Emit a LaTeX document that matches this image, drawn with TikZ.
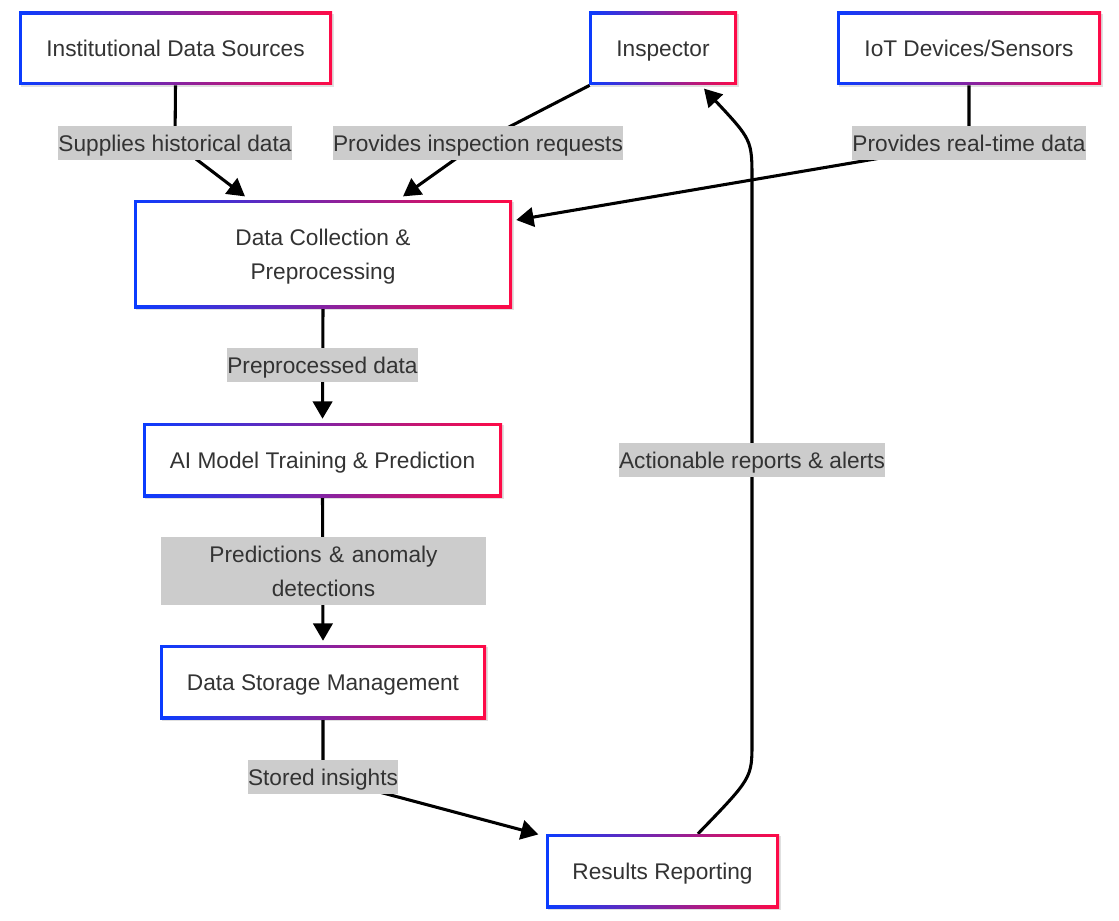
\documentclass[tikz,border=0pt]{standalone}
\usepackage{fontspec}
\setmainfont{Liberation Sans}
\usetikzlibrary{arrows.meta,shadows}
\definecolor{cblue}{HTML}{0A3CFF}
\definecolor{cred}{HTML}{FF0A46}
\definecolor{ctext}{HTML}{333333}
\definecolor{clabel}{HTML}{CCCCCC}
\pgfdeclarelayer{bg}
\pgfdeclarelayer{edges}
\pgfsetlayers{bg,edges,main}
\tikzset{
  gbox/.style={fill=white, text=ctext, inner sep=0pt, align=center,
    font=\fontsize{17pt}{25.5pt}\selectfont,
    general shadow={fill=black, opacity=0.12, shadow xshift=1.5pt, shadow yshift=-1.5pt},
    path picture={
      \shade[left color=cblue, right color=cred]
        (path picture bounding box.south west) rectangle (path picture bounding box.north east);
      \fill[white]
        ([shift={(2.3pt,2.3pt)}]path picture bounding box.south west) rectangle
        ([shift={(-2.3pt,-2.3pt)}]path picture bounding box.north east);
    }},
  sbox/.style={gbox, text height=13pt, text depth=1pt},
  elabel/.style={fill=clabel, text=ctext, inner xsep=0pt, inner ysep=0pt,
    minimum height=25.5pt, align=center,
    font=\fontsize{17pt}{25.5pt}\selectfont},
  slabel/.style={elabel, text height=13.5pt, text depth=1pt},
  conn/.style={draw=black, line width=2.3pt, -{Triangle[length=13pt,width=14.5pt]}}
}
\begin{document}
\begin{tikzpicture}[x=0.75pt,y=-0.75pt]
\useasboundingbox (0,0) rectangle (1119,920);
\begin{pgfonlayer}{bg}
\fill[white] (0,0) rectangle (1119,920);
\end{pgfonlayer}

% nodes
\node[sbox, minimum width=234.75pt, minimum height=54.75pt] (ids) at (175.5,48.5) {Institutional Data Sources};
\node[sbox, minimum width=111pt, minimum height=54.75pt] (insp) at (663,48.5) {Inspector};
\node[sbox, minimum width=198pt, minimum height=54.75pt] (iot) at (969,48.5) {IoT Devices/Sensors};
\node[gbox, minimum width=283.5pt, minimum height=81pt] (dcp) at (323,254) {\rule{0pt}{17pt}Data Collection \&\\Preprocessing};
\node[sbox, minimum width=269.25pt, minimum height=55.5pt] (ai) at (322.5,460) {AI Model Training \& Prediction};
\node[sbox, minimum width=244.5pt, minimum height=55.5pt] (dsm) at (323,682) {Data Storage Management};
\node[sbox, minimum width=174.75pt, minimum height=55.5pt] (rr) at (662.5,871) {Results Reporting};

% labels
\node[slabel] (l1) at (175,143) {Supplies historical data};
\node[slabel] (l2) at (478,143) {Provides inspection requests};
\node[slabel] (l3) at (969,143) {Provides real-time data};
\node[slabel] (l4) at (322.5,365) {Preprocessed data};
\node[elabel, text width=243.75pt, minimum height=51pt] (l5) at (323.5,571) {Predictions \& anomaly\\detections};
\node[slabel] (l6) at (323,777) {Stored insights};
\node[slabel] (l7) at (752,460) {Actionable reports \& alerts};

% coordinates for bends
\coordinate (r1) at (752,742);
\coordinate (r2) at (752,180);

\begin{pgfonlayer}{edges}
\draw[conn] (ids.south) -- (l1.center) -- ([xshift=-58.5pt,yshift=2.5pt]dcp.north);
\draw[conn] ([xshift=0.75pt]insp.south west) -- (l2.center) -- ([xshift=60pt,yshift=2.5pt]dcp.north);
\draw[conn] (iot.south) -- (l3.center) -- ([xshift=3pt,yshift=25.5pt]dcp.east);
\draw[conn] (dcp.south) -- ([yshift=3pt]ai.north);
\draw[conn] (ai.south) -- ([yshift=3pt]dsm.north);
\draw[conn] (dsm.south) -- (l6.center) -- ([xshift=-5.5pt,yshift=-0.5pt]rr.north west);
\draw[conn] ([xshift=26.6pt]rr.north) .. controls (752,778) .. (r1) -- (l7.center) -- (r2)
  .. controls (752,140) .. ([xshift=30.75pt,yshift=-2.5pt]insp.south);
\end{pgfonlayer}
\end{tikzpicture}
\end{document}
